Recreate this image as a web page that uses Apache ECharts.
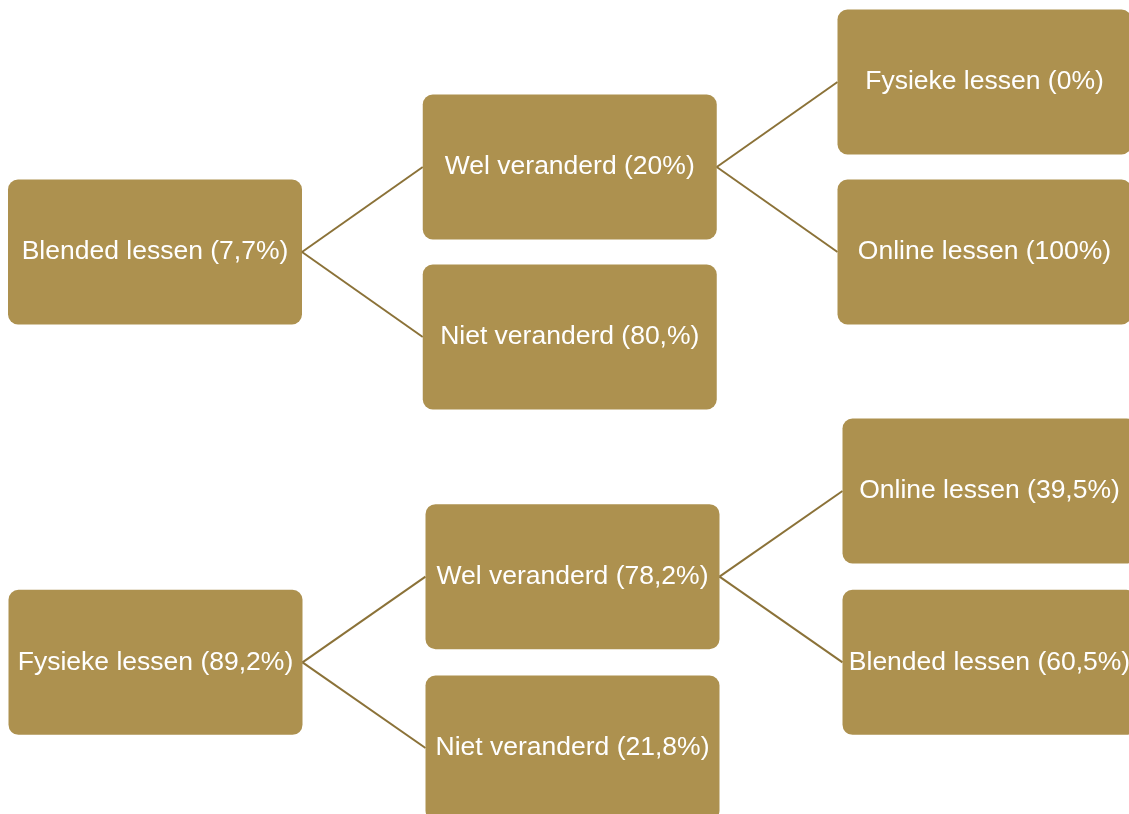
<!DOCTYPE html>
<html>
<head>
<meta charset="utf-8">
<style>
  html, body { margin: 0; padding: 0; background: #fff; }
  #chart { width: 1129px; height: 814px; }
</style>
<script src="https://cdn.jsdelivr.net/npm/echarts@6/dist/echarts.min.js"></script>
</head>
<body>
<div id="chart"></div>
<script>
// upper tree: pupils who had blended lessons
const topLabels = [
  'Blended lessen (7,7%)',
  'Wel veranderd (20%)',
  'Niet veranderd (80,%)',
  'Fysieke lessen (0%)',
  'Online lessen (100%)'
];
const topParents = [-1, 0, 0, 1, 1];

// lower tree: pupils who had physical lessons
const bottomLabels = [
  'Fysieke lessen (89,2%)',
  'Wel veranderd (78,2%)',
  'Niet veranderd (21,8%)',
  'Online lessen (39,5%)',
  'Blended lessen (60,5%)'
];
const bottomParents = [-1, 0, 0, 1, 1];

const BOX_W = 294;
const BOX_H = 145;
const GOLD = '#ad914f';
const LINE = '#8b7238';

// small tidy-tree layout: depth per node and a slot along the vertical axis
function layoutTree(parents) {
  const kids = parents.map(() => []);
  parents.forEach((p, i) => { if (p >= 0) kids[p].push(i); });
  const depth = parents.map(() => 0);
  const pos = parents.map(() => 0);

  function place(i, d) {
    depth[i] = d;
    if (!kids[i].length) {
      pos[i] = 0;
      return { nodes: [i], lo: [0], hi: [0] };
    }
    let nodes = [], lo = [], hi = [];
    kids[i].forEach(k => {
      const sub = place(k, d + 1);
      let shift = 0;
      if (hi.length) {
        shift = -Infinity;
        const n = Math.min(hi.length, sub.lo.length);
        for (let l = 0; l < n; l++) shift = Math.max(shift, hi[l] + 1 - sub.lo[l]);
      }
      sub.nodes.forEach(j => { pos[j] += shift; });
      sub.lo.forEach((v, l) => {
        lo[l] = lo[l] === undefined ? v + shift : Math.min(lo[l], v + shift);
        hi[l] = hi[l] === undefined ? sub.hi[l] + shift : Math.max(hi[l], sub.hi[l] + shift);
      });
      nodes = nodes.concat(sub.nodes);
    });
    const first = kids[i][0], last = kids[i][kids[i].length - 1];
    pos[i] = (pos[first] + pos[last]) / 2;
    return { nodes: [i].concat(nodes), lo: [pos[i]].concat(lo), hi: [pos[i]].concat(hi) };
  }

  place(parents.indexOf(-1), 0);
  const minPos = Math.min(...pos);
  return parents.map((p, i) => [depth[i], pos[i] - minPos]);
}

function makeSeries(labels, parents, axisIndex) {
  const layout = layoutTree(parents);
  return {
    type: 'custom',
    coordinateSystem: 'cartesian2d',
    xAxisIndex: axisIndex,
    yAxisIndex: axisIndex,
    clip: false,
    silent: true,
    encode: { x: 0, y: 1 },
    data: layout,
    renderItem: function (params, api) {
      const i = params.dataIndex;
      const c = api.coord([api.value(0), api.value(1)]);
      const children = [];
      if (parents[i] >= 0) {
        const pc = api.coord(layout[parents[i]]);
        children.push({
          type: 'line',
          shape: { x1: pc[0] + BOX_W / 2, y1: pc[1], x2: c[0] - BOX_W / 2, y2: c[1] },
          style: { stroke: LINE, lineWidth: 2 }
        });
      }
      children.push({
        type: 'rect',
        shape: { x: c[0] - BOX_W / 2, y: c[1] - BOX_H / 2, width: BOX_W, height: BOX_H, r: 10 },
        style: { fill: GOLD }
      });
      children.push({
        type: 'text',
        x: c[0],
        y: c[1],
        style: {
          text: labels[i],
          fill: '#ffffff',
          font: '26.5px "Liberation Sans", Arial, sans-serif',
          align: 'center',
          verticalAlign: 'middle'
        }
      });
      return { type: 'group', children: children };
    }
  };
}

function hiddenAxis(gridIndex, max, inverse) {
  return { type: 'value', gridIndex: gridIndex, min: 0, max: max, inverse: inverse, show: false };
}

const topLayout = layoutTree(topParents);
const bottomLayout = layoutTree(bottomParents);
const maxOf = (l, k) => Math.max(...l.map(d => d[k]));

const chart = echarts.init(document.getElementById('chart'));
chart.setOption({
  animation: false,
  grid: [
    { left: 155, top: 82, width: 829.5, height: 255 },
    { left: 155.5, top: 491, width: 834, height: 257 }
  ],
  xAxis: [
    hiddenAxis(0, maxOf(topLayout, 0), false),
    hiddenAxis(1, maxOf(bottomLayout, 0), false)
  ],
  yAxis: [
    hiddenAxis(0, maxOf(topLayout, 1), true),
    hiddenAxis(1, maxOf(bottomLayout, 1), true)
  ],
  series: [
    makeSeries(topLabels, topParents, 0),
    makeSeries(bottomLabels, bottomParents, 1)
  ]
});
</script>
</body>
</html>
